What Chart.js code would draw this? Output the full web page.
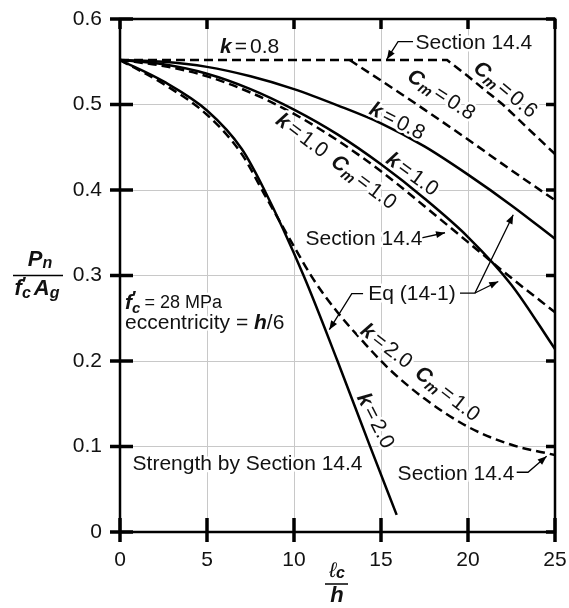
<!DOCTYPE html>
<html>
<head>
<meta charset="utf-8">
<script src="https://cdn.jsdelivr.net/npm/chart.js@4.4.0/dist/chart.umd.min.js"></script>
<style>
  html, body { margin: 0; background: #fff; }
  #wrap { width: 569px; height: 608px; position: relative; }
</style>
</head>
<body>
<div id="wrap"><canvas id="chart"></canvas></div>
<script>
// ---- data (x = lc/h, y = Pn / f'c Ag) ----
// k = 0.8, Eq (14-1)
const k08EqX = [0, 2.5, 5, 7.5, 10, 12.5, 15, 17.5, 20, 22.5, 25];
const k08EqY = [0.552, 0.550, 0.544, 0.533, 0.518, 0.499, 0.478, 0.451, 0.418, 0.382, 0.343];
// k = 0.8, Section 14.4, Cm = 0.6 (includes the flat part)
const k08Cm06X = [0, 18.8, 20, 22, 25];
const k08Cm06Y = [0.552, 0.552, 0.533, 0.500, 0.442];
// k = 0.8, Section 14.4, Cm = 0.8
const k08Cm08X = [13.2, 15, 17.5, 20, 22.5, 25];
const k08Cm08Y = [0.552, 0.528, 0.494, 0.459, 0.423, 0.388];
// k = 1.0, Eq (14-1)
const k10EqX = [0, 2.5, 5, 7.5, 10, 12.5, 15, 17.5, 20, 22.5, 25];
const k10EqY = [0.552, 0.547, 0.536, 0.518, 0.494, 0.465, 0.430, 0.390, 0.345, 0.289, 0.214];
// k = 1.0, Section 14.4, Cm = 1.0
const k10SecX = [0, 2.5, 5, 7.5, 10, 12.5, 15, 17.5, 20, 22.5, 25];
const k10SecY = [0.552, 0.545, 0.533, 0.514, 0.489, 0.458, 0.422, 0.381, 0.339, 0.297, 0.257];
// k = 2.0, Eq (14-1)
const k20EqX = [0, 2.5, 5, 7, 8.3, 10.55, 12.5, 14.3, 15.9];
const k20EqY = [0.552, 0.527, 0.493, 0.448, 0.400, 0.300, 0.200, 0.104, 0.020];
// k = 2.0, Section 14.4, Cm = 1.0
const k20SecX = [0, 2.5, 5, 7, 8.3, 10, 11.1, 12.5, 14, 15.5, 17.5, 20, 22.5, 25];
const k20SecY = [0.552, 0.524, 0.488, 0.442, 0.395, 0.334, 0.296, 0.257, 0.222, 0.190, 0.156, 0.123, 0.102, 0.090];

const xMin = 0, xMax = 25, xStep = 5;
const yMin = 0, yMax = 0.6, yStep = 0.1;

const FAM = '"Liberation Sans", Arial, Helvetica, sans-serif';
const font = (size, style) => (style ? style + ' ' : '') + size + 'px ' + FAM;
const N = font(21), BI = font(21, 'italic bold'), SUB = font(15, 'italic bold');
const INK = '#111';

Chart.defaults.font.family = FAM;

function series(xs, ys, dashed, smooth) {
    return {
        data: xs.map((x, i) => ({ x: x, y: ys[i] })),
        borderColor: '#000',
        borderWidth: 2.5,
        borderDash: dashed ? [9, 5] : [],
        pointRadius: 0,
        fill: false,
        tension: 0,
        cubicInterpolationMode: smooth ? 'monotone' : 'default'
    };
}

// text runs: [text, font, dy, gapAfter, noAdvance]
const kRuns = v => [['k', BI, 0, 3], ['=', N, 0, 3], [v, N]];
const cmRuns = v => [['C', BI], ['m', SUB, 5, 3], ['=', N, 0, 3], [v, N]];

function drawRuns(ctx, parts, cx, cy, deg, align, noHalo) {
    ctx.save();
    ctx.translate(cx, cy);
    ctx.rotate(deg * Math.PI / 180);
    ctx.textBaseline = 'middle';
    ctx.textAlign = 'left';
    const widths = parts.map(p => {
        ctx.font = p[1];
        return p[4] ? 0 : ctx.measureText(p[0]).width + (p[3] || 0);
    });
    const total = widths.reduce((a, b) => a + b, 0);
    const x0 = align === 'left' ? 0 : -total / 2;
    const passes = noHalo ? ['ink'] : ['halo', 'ink'];
    passes.forEach(pass => {
        let x = x0;
        parts.forEach((p, i) => {
            ctx.font = p[1];
            if (pass === 'halo') {
                ctx.strokeStyle = '#fff';
                ctx.lineWidth = 5;
                ctx.lineJoin = 'round';
                ctx.strokeText(p[0], x, p[2] || 0);
            } else {
                ctx.fillStyle = INK;
                ctx.fillText(p[0], x, p[2] || 0);
            }
            x += widths[i];
        });
    });
    ctx.restore();
}

function arrowHead(ctx, x1, y1, x2, y2) {
    const a = Math.atan2(y2 - y1, x2 - x1), L = 9, W = 3.5;
    ctx.beginPath();
    ctx.moveTo(x2, y2);
    ctx.lineTo(x2 - L * Math.cos(a) + W * Math.sin(a), y2 - L * Math.sin(a) - W * Math.cos(a));
    ctx.lineTo(x2 - L * Math.cos(a) - W * Math.sin(a), y2 - L * Math.sin(a) + W * Math.cos(a));
    ctx.closePath();
    ctx.fill();
}

// leader line through points (pixel), arrow at the last one
function leader(ctx, pts) {
    ctx.beginPath();
    ctx.moveTo(pts[0][0], pts[0][1]);
    pts.slice(1).forEach(p => ctx.lineTo(p[0], p[1]));
    ctx.stroke();
    const n = pts.length;
    arrowHead(ctx, pts[n - 2][0], pts[n - 2][1], pts[n - 1][0], pts[n - 1][1]);
}

const decorations = {
    id: 'decorations',
    afterDraw(chart) {
        const { ctx, chartArea: a, scales } = chart;
        const X = v => scales.x.getPixelForValue(v);
        const Y = v => scales.y.getPixelForValue(v);
        const P = (vx, vy) => [X(vx), Y(vy)];

        ctx.save();
        // frame
        ctx.strokeStyle = '#000';
        ctx.lineWidth = 2.5;
        ctx.strokeRect(a.left, a.top, a.right - a.left, a.bottom - a.top);

        // ticks (crossing the bottom/left axes, inward on top/right)
        ctx.lineWidth = 3.5;
        const seg = (x1, y1, x2, y2) => { ctx.beginPath(); ctx.moveTo(x1, y1); ctx.lineTo(x2, y2); ctx.stroke(); };
        scales.x.ticks.forEach(t => {
            const px = X(t.value);
            seg(px, a.bottom + 10, px, a.bottom - 14);
            seg(px, a.top, px, a.top + 10);
        });
        scales.y.ticks.forEach(t => {
            const py = Y(t.value);
            seg(a.left - 10, py, a.left + 13, py);
            seg(a.right, py, a.right - 9, py);
        });

        // leaders and arrows
        ctx.lineWidth = 1.3;
        ctx.fillStyle = '#000';
        leader(ctx, [P(16.84, 0.5735), P(15.98, 0.5735), P(15.34, 0.553)]);
        leader(ctx, [P(17.34, 0.344), P(18.68, 0.350)]);
        leader(ctx, [P(13.97, 0.2787), P(13.32, 0.2787), P(12.03, 0.2366)]);
        leader(ctx, [P(19.54, 0.2795), P(20.40, 0.2795), P(22.60, 0.371)]);
        leader(ctx, [P(20.40, 0.2795), P(21.74, 0.293)]);
        leader(ctx, [P(22.80, 0.0699), P(23.45, 0.0699), P(24.52, 0.0886)]);

        // labels inside the plot
        const labels = [
            [kRuns('0.8'), 7.45, 0.567, 0],
            [[['Section 14.4', N]], 20.34, 0.572, 0],
            [cmRuns('0.6'), 22.13, 0.517, 40],
            [cmRuns('0.8'), 18.45, 0.511, 33],
            [kRuns('0.8'), 15.92, 0.480, 27],
            [kRuns('1.0'), 16.78, 0.418, 36],
            [kRuns('1.0').concat([['', N, 0, 10]], cmRuns('1.0')), 12.41, 0.433, 37],
            [[['Section 14.4', N]], 14.02, 0.343, 0],
            [[['Eq (14-1)', N]], 16.78, 0.278, 0],
            [[['Section 14.4', N]], 19.31, 0.068, 0],
            [kRuns('2.0').concat([['', N, 0, 10]], cmRuns('1.0')), 17.24, 0.186, 38],
            [kRuns('2.0'), 14.66, 0.130, 63],
            [[['Strength by Section 14.4', N]], 7.33, 0.079, 0]
        ];
        labels.forEach(l => drawRuns(ctx, l[0], X(l[1]), Y(l[2]), l[3]));

        drawRuns(ctx, [['f', BI], ['\u2032', font(18, 'bold'), -4, 0, true], ['c', SUB, 6, 4], ['= 28 MPa', font(18)]],
            X(0.29), Y(0.268), 0, 'left');
        drawRuns(ctx, [['eccentricity = ', N], ['h', BI], ['/6', N]], X(0.29), Y(0.244), 0, 'left');

        // y axis title: Pn / f'c Ag
        const BI22 = font(22, 'italic bold'), SUB16 = font(16, 'italic bold');
        drawRuns(ctx, [['P', BI22], ['n', SUB16, 4]], 40, 260, 0, 'center', true);
        drawRuns(ctx, [['f', BI22], ['\u2032', font(18, 'bold'), -4, 0, true], ['c', SUB16, 5, 3], ['A', BI22], ['g', SUB16, 5]],
            37, 289, 0, 'center', true);
        ctx.lineWidth = 1.5;
        seg(13, 275.5, 63, 275.5);

        // x axis title: lc / h
        drawRuns(ctx, [['\u2113', font(21, 'italic')], ['c', SUB16, 3]], 337, 571, 0, 'center', true);
        drawRuns(ctx, [['h', BI22]], 337, 596, 0, 'center', true);
        seg(325, 584, 348, 584);

        ctx.restore();
    }
};

new Chart(document.getElementById('chart'), {
    type: 'line',
    data: {
        datasets: [
            series(k08EqX, k08EqY, false, true),
            series(k08Cm06X, k08Cm06Y, true, false),
            series(k08Cm08X, k08Cm08Y, true, true),
            series(k10EqX, k10EqY, false, true),
            series(k10SecX, k10SecY, true, true),
            series(k20EqX, k20EqY, false, true),
            series(k20SecX, k20SecY, true, true)
        ]
    },
    options: {
        responsive: true,
        maintainAspectRatio: false,
        animation: false,
        events: [],
        layout: { padding: { left: 70, right: 14, top: 19, bottom: 36 } },
        plugins: { legend: { display: false }, tooltip: { enabled: false } },
        scales: {
            x: {
                type: 'linear',
                min: xMin, max: xMax,
                ticks: { stepSize: xStep, padding: 16, color: INK, font: { size: 21 } },
                grid: { color: '#c8c8c8', lineWidth: 1, drawTicks: false },
                border: { display: false },
                afterFit: s => { s.height = 40; s.paddingLeft = 0; s.paddingRight = 0; }
            },
            y: {
                min: yMin, max: yMax,
                ticks: {
                    stepSize: yStep, padding: 18, color: INK, font: { size: 21 },
                    callback: v => (Math.abs(v) < 1e-9 ? '0' : v.toFixed(1))
                },
                grid: { color: '#c8c8c8', lineWidth: 1, drawTicks: false },
                border: { display: false },
                afterFit: s => { s.width = 50; s.paddingTop = 0; s.paddingBottom = 0; }
            }
        }
    },
    plugins: [decorations]
});
</script>
</body>
</html>
